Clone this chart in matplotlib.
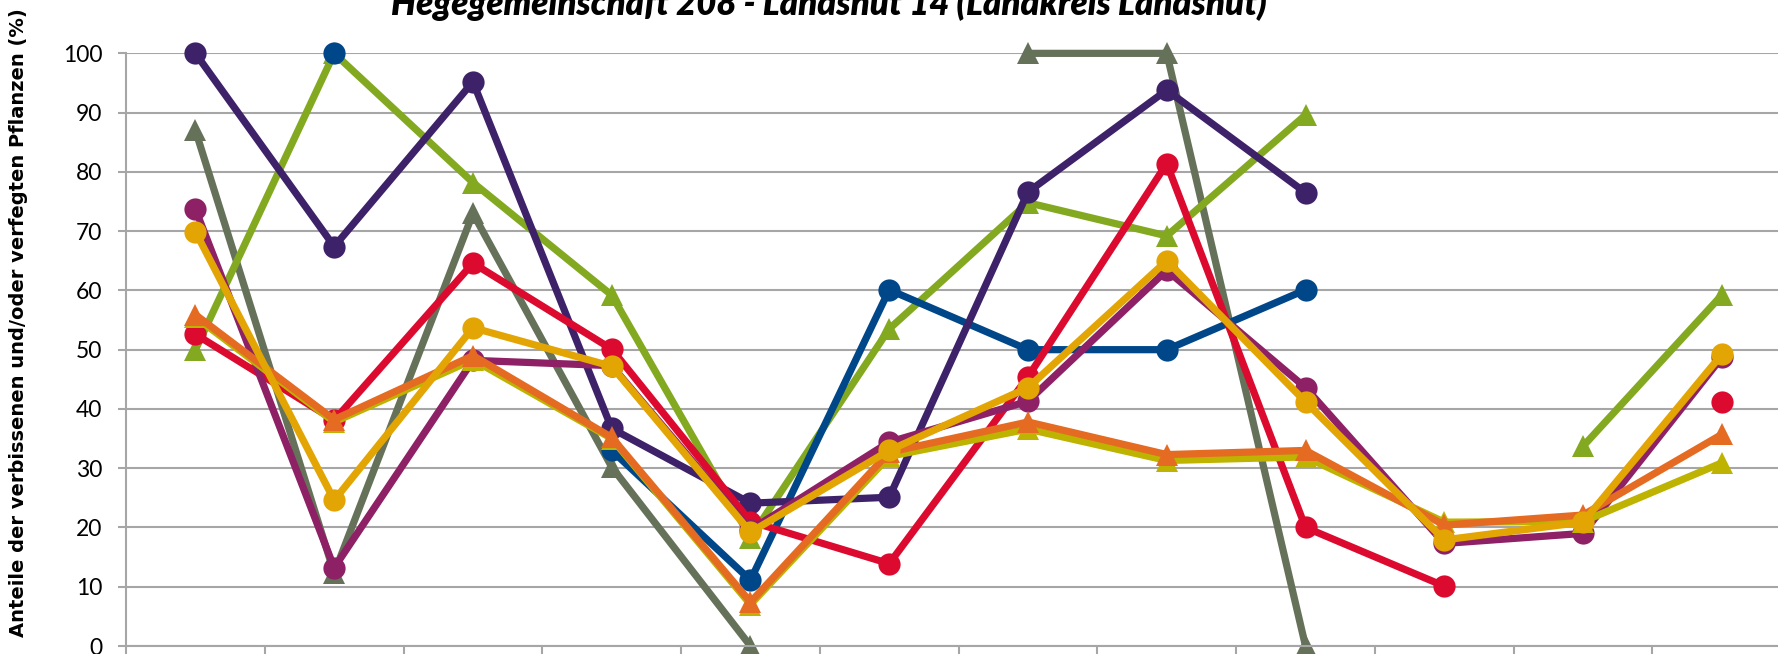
import numpy as np
import matplotlib
matplotlib.use("Agg")
import matplotlib.pyplot as plt

nan = np.nan

# 12 category positions (x tick labels are cut off in the reference)
positions = np.arange(12)

# values in %, NaN = no value
grau = [87, 12.3, 73, 30.2, 0, nan, 100, 100, 0, nan, nan, nan]
gruen = [50, 100, 78.2, 59.2, 18.3, 53.5, 74.8, 69.2, 89.6, nan, 33.7, 59.2]
blau = [nan, 100, nan, 33.0, 11.1, 60.1, 50, 50, 60.1, nan, nan, nan]
violett = [100, 67.4, 95.2, 36.7, 24.1, 25.1, 76.6, 93.8, 76.5, nan, nan, nan]
rot = [52.6, 38.1, 64.6, 50.1, 21.0, 13.9, 45.4, 81.4, 20.0, 10.1, nan, 41.2]
magenta = [73.7, 13.2, 48.2, 47.3, 19.6, 34.4, 41.3, 63.4, 43.6, 17.3, 19.0, 48.7]
oliv = [55.5, 37.8, 48.3, 35.0, 7.0, 32.0, 36.6, 31.3, 31.9, 20.9, 21.0, 30.9]
orange = [55.9, 38.2, 49.0, 35.2, 7.4, 32.7, 37.8, 32.3, 33.0, 20.4, 22.1, 35.7]
gold = [69.9, 24.6, 53.7, 47.2, 19.2, 33.0, 43.6, 65.0, 41.2, 17.9, 20.9, 49.2]

# drawing order bottom -> top
series = [
    (grau, "#657159", "^"),
    (gruen, "#82A920", "^"),
    (blau, "#00478A", "o"),
    (violett, "#3D2169", "o"),
    (rot, "#DC0A2F", "o"),
    (magenta, "#8E2065", "o"),
    (oliv, "#BDB300", "^"),
    (orange, "#E46B21", "^"),
    (gold, "#E3A504", "o"),
]

title = "Hegegemeinschaft 208 - Landshut 14 (Landkreis Landshut)"
ylabel = "Anteile der verbissenen und/oder verfegten Pflanzen (%)"

fig = plt.figure(figsize=(17.78, 6.54), dpi=100)
ax = fig.add_axes([0.0709, 0.01223, 0.9365, 0.9062])

for vals, col, mk in series:
    ax.plot(positions, vals, color=col, lw=5.2, marker=mk, ms=16,
            markeredgewidth=0, clip_on=False, solid_joinstyle="round")

ax.set_xlim(-0.5, 11.5)
ax.set_ylim(0, 100)
ax.set_yticks(np.arange(0, 101, 10))
ax.set_xticks(np.arange(-0.5, 12, 1))
ax.set_xticklabels([])
ax.grid(axis="y", color="#A6A6A6", lw=1.5)
ax.set_axisbelow(True)
for side in ("top", "right"):
    ax.spines[side].set_visible(False)
for side in ("left", "bottom"):
    ax.spines[side].set_color("#A6A6A6")
    ax.spines[side].set_linewidth(1.5)
ax.tick_params(axis="both", color="#A6A6A6", width=1.5, length=6)
ax.tick_params(axis="y", pad=11, labelsize=16.5)
for lab in ax.get_yticklabels():
    lab.set_family("Lato")

fig.text(0.466, 0.977, title, ha="center", va="baseline",
         fontsize=25, fontweight="heavy", fontstyle="italic", family="Lato")
fig.text(0.0105, 0.507, ylabel, ha="center", va="center", rotation=90,
         fontsize=14, fontweight="bold", family="DejaVu Sans")

fig.savefig("out.png", dpi=100)
